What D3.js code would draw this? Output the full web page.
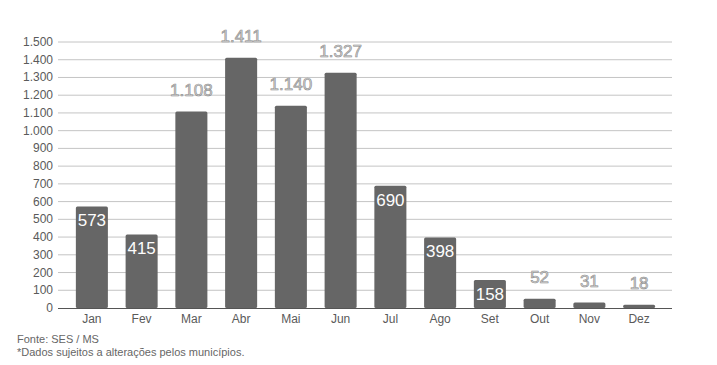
<!DOCTYPE html>
<html lang="pt">
<head>
<meta charset="UTF-8">
<title>Casos por mês</title>
<script src="https://d3js.org/d3.v7.min.js"></script>
<style>
  body { margin: 0; background: #fff; }
  text { font-family: "Liberation Sans", Arial, sans-serif; }
</style>
</head>
<body>
<svg id="chart" width="717" height="365"></svg>
<script>
// dados
const meses = ["Jan","Fev","Mar","Abr","Mai","Jun","Jul","Ago","Set","Out","Nov","Dez"];
const casos = [573, 415, 1108, 1411, 1140, 1327, 690, 398, 158, 52, 31, 18];
const rotuloDentro = [true, true, false, false, false, false, true, true, true, false, false, false];
const ticks = [0,100,200,300,400,500,600,700,800,900,1000,1100,1200,1300,1400,1500];
const notas = ["Fonte: SES / MS", "*Dados sujeitos a alterações pelos municípios."];

const svg = d3.select("#chart");
const fmt = d3.formatLocale({decimal: ",", thousands: ".", grouping: [3], currency: ["R$",""]}).format(",d");

const x = d3.scaleBand().domain(meses).range([67, 664]).paddingInner(0.356).paddingOuter(0.178);
const y = d3.scaleLinear().domain([0, 1500]).range([308, 42]);

// linhas de grade
svg.append("g").selectAll("line").data(ticks.slice(1)).enter().append("line")
  .attr("x1", 58).attr("x2", 672)
  .attr("y1", d => y(d)).attr("y2", d => y(d))
  .attr("stroke", "#c4c4c4").attr("stroke-width", 1);

// eixo y
svg.append("g").selectAll("text").data(ticks).enter().append("text")
  .attr("x", 53).attr("y", d => y(d) + 4)
  .attr("text-anchor", "end").attr("font-size", 12).attr("fill", "#5a5a5a")
  .text(d => fmt(d));

// barras
svg.append("g").selectAll("rect").data(casos).enter().append("rect")
  .attr("x", (d, i) => x(meses[i]))
  .attr("y", d => y(d))
  .attr("width", x.bandwidth())
  .attr("height", d => y(0) - y(d))
  .attr("rx", 1.5)
  .attr("fill", "#666666");

// linha base
svg.append("line").attr("x1", 58).attr("x2", 672).attr("y1", y(0) + 0.5).attr("y2", y(0) + 0.5)
  .attr("stroke", "#555").attr("stroke-width", 1);

// meses
svg.append("g").selectAll("text").data(meses).enter().append("text")
  .attr("x", d => x(d) + x.bandwidth() / 2).attr("y", 323)
  .attr("text-anchor", "middle").attr("font-size", 12).attr("fill", "#5a5a5a")
  .text(d => d);

// rótulos de valor
svg.append("g").attr("opacity", 0.99).selectAll("text").data(casos).enter().append("text")
  .attr("x", (d, i) => x(meses[i]) + x.bandwidth() / 2)
  .attr("y", (d, i) => rotuloDentro[i] ? y(d) + 20 : y(d) - 16)
  .attr("text-anchor", "middle").attr("font-size", 17)
  .attr("fill", (d, i) => rotuloDentro[i] ? "#fff" : "#d4d4d4")
  .attr("stroke", (d, i) => rotuloDentro[i] ? "none" : "#8c8c8c")
  .attr("stroke-width", 0.6)
  .text(d => fmt(d));

// notas
svg.append("g").selectAll("text").data(notas).enter().append("text")
  .attr("x", 17).attr("y", (d, i) => 343 + i * 13)
  .attr("font-size", 11).attr("fill", "#666")
  .text(d => d);
</script>
</body>
</html>
